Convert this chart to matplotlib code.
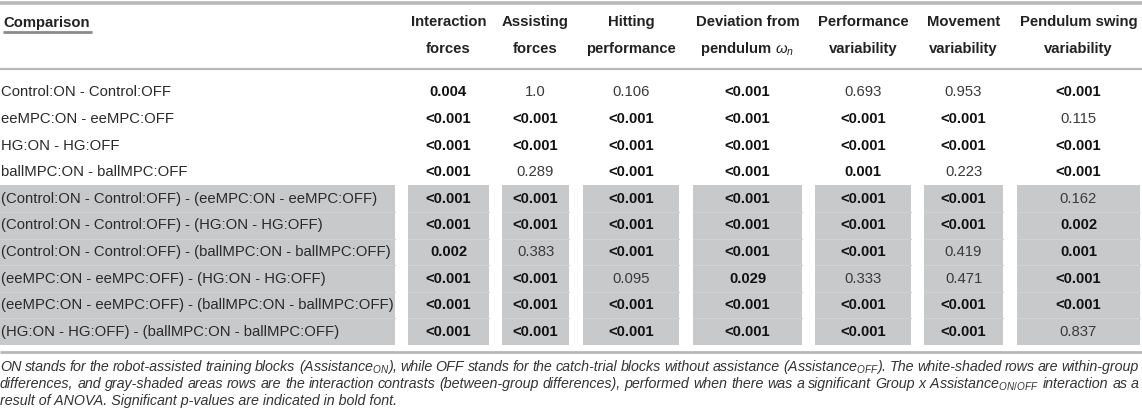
import matplotlib
matplotlib.use("Agg")
import matplotlib.pyplot as plt
from matplotlib.patches import Rectangle

plt.rcParams['font.family'] = ['Liberation Sans', 'DejaVu Sans']
plt.rcParams['mathtext.fontset'] = 'custom'
plt.rcParams['mathtext.rm'] = 'Liberation Sans'
plt.rcParams['mathtext.it'] = 'Liberation Sans:italic'
plt.rcParams['mathtext.bf'] = 'Liberation Sans:bold'

# ---------------- data ----------------
comparisons = [
    "Control:ON - Control:OFF",
    "eeMPC:ON - eeMPC:OFF",
    "HG:ON - HG:OFF",
    "ballMPC:ON - ballMPC:OFF",
    "(Control:ON - Control:OFF) - (eeMPC:ON - eeMPC:OFF)",
    "(Control:ON - Control:OFF) - (HG:ON - HG:OFF)",
    "(Control:ON - Control:OFF) - (ballMPC:ON - ballMPC:OFF)",
    "(eeMPC:ON - eeMPC:OFF) - (HG:ON - HG:OFF)",
    "(eeMPC:ON - eeMPC:OFF) - (ballMPC:ON - ballMPC:OFF)",
    "(HG:ON - HG:OFF) - (ballMPC:ON - ballMPC:OFF)",
]
row_shaded = [False, False, False, False, True, True, True, True, True, True]

header_line1 = ["Interaction", "Assisting", "Hitting", "Deviation from",
                "Performance", "Movement", "Pendulum swing"]
header_line2 = ["forces", "forces", "performance", r"pendulum $\omega_n$",
                "variability", "variability", "variability"]

interaction_forces = ["0.004", "<0.001", "<0.001", "<0.001", "<0.001", "<0.001",
                      "0.002", "<0.001", "<0.001", "<0.001"]
assisting_forces = ["1.0", "<0.001", "<0.001", "0.289", "<0.001", "<0.001",
                    "0.383", "<0.001", "<0.001", "<0.001"]
hitting_performance = ["0.106", "<0.001", "<0.001", "<0.001", "<0.001", "<0.001",
                       "<0.001", "0.095", "<0.001", "<0.001"]
deviation_pendulum = ["<0.001", "<0.001", "<0.001", "<0.001", "<0.001", "<0.001",
                      "<0.001", "0.029", "<0.001", "<0.001"]
performance_variability = ["0.693", "<0.001", "<0.001", "0.001", "<0.001", "<0.001",
                           "<0.001", "0.333", "<0.001", "<0.001"]
movement_variability = ["0.953", "<0.001", "<0.001", "0.223", "<0.001", "<0.001",
                        "0.419", "0.471", "<0.001", "<0.001"]
pendulum_swing_variability = ["<0.001", "0.115", "<0.001", "<0.001", "0.162", "0.002",
                              "0.001", "<0.001", "<0.001", "0.837"]

columns = [interaction_forces, assisting_forces, hitting_performance,
           deviation_pendulum, performance_variability, movement_variability,
           pendulum_swing_variability]

caption_lines = [
    r"ON stands for the robot-assisted training blocks (Assistance$_{ON}$), while OFF stands for the catch-trial blocks without assistance (Assistance$_{OFF}$). The white-shaded rows are within-group",
    r"differences, and gray-shaded areas rows are the interaction contrasts (between-group differences), performed when there was a significant Group x Assistance$_{ON/OFF}$ interaction as a",
    r"result of ANOVA. Significant p-values are indicated in bold font.",
]
caption_justify = [True, True, False]

# ---------------- layout (pixel units) ----------------
W, H = 1142, 419
col_bounds = [(408, 489), (502, 569), (583, 679), (693, 802),
              (815, 911), (924, 1003), (1017, 1140)]
label_bounds = (0, 395)
row_y0 = 79
row_h = 26.6
FS = 10.75
CAP_FS = 10.3
GRAY = "#c8c9cb"


def is_significant(v):
    if v.startswith("<"):
        return True
    return float(v) < 0.05


fig = plt.figure(figsize=(W / 100, H / 100), dpi=100)
ax = fig.add_axes([0, 0, 1, 1])
ax.set_xlim(0, W)
ax.set_ylim(H, 0)
ax.axis("off")

# shading
shaded_rows = [i for i, s in enumerate(row_shaded) if s]
if shaded_rows:
    top = row_y0 + shaded_rows[0] * row_h
    bot = row_y0 + (shaded_rows[-1] + 1) * row_h
    for (x0, x1) in [label_bounds] + col_bounds:
        ax.add_patch(Rectangle((x0, top), x1 - x0, bot - top,
                               facecolor=GRAY, edgecolor="none", zorder=0))
        for r in shaded_rows[1:]:
            yy = row_y0 + r * row_h
            ax.plot([x0, x1], [yy, yy], color="#d0d1d3", lw=0.8, zorder=1)

# rules
ax.plot([0, W], [3, 3], color="#b8b8b8", lw=2.6, solid_capstyle="butt")
ax.plot([0, W], [69, 69], color="#b8b8b8", lw=1.6, solid_capstyle="butt")
ax.plot([0, W], [352, 352], color="#b8b8b8", lw=2.0, solid_capstyle="butt")

# header
ax.text(3, 23, "Comparison", fontsize=FS, fontweight="bold", color="#222222",
        ha="left", va="center")
ax.plot([3, 92], [32.5, 32.5], color="#8a8a8a", lw=2.0, solid_capstyle="butt")
for (x0, x1), h1, h2 in zip(col_bounds, header_line1, header_line2):
    xc = (x0 + x1) / 2
    ax.text(xc, 22, h1, fontsize=FS, fontweight="bold", color="#222222",
            ha="center", va="center")
    ax.text(xc, 49, h2, fontsize=FS, fontweight="bold", color="#222222",
            ha="center", va="center")

# body
for i, label in enumerate(comparisons):
    yc = row_y0 + (i + 0.5) * row_h
    ax.text(1, yc, label, fontsize=FS, color="#2a2a2a", ha="left", va="center")
    for (x0, x1), col in zip(col_bounds, columns):
        v = col[i]
        bold = is_significant(v)
        ax.text((x0 + x1) / 2, yc, v, fontsize=FS,
                fontweight="bold" if bold else "normal",
                color="#111111" if bold else "#3a3a3a",
                ha="center", va="center")

# caption (justified)
fig.canvas.draw()
renderer = fig.canvas.get_renderer()
cap_y = [367, 384, 400.5]
for line, just, y in zip(caption_lines, caption_justify, cap_y):
    if not just:
        ax.text(0, y, line, fontsize=CAP_FS, style="italic", color="#333333",
                ha="left", va="center")
        continue
    words = line.split(" ")
    texts = [ax.text(0, y, w, fontsize=CAP_FS, style="italic", color="#333333",
                     ha="left", va="center") for w in words]
    widths = [t.get_window_extent(renderer).width for t in texts]
    gap = (1139 - sum(widths)) / (len(words) - 1)
    x = 0
    for t, w in zip(texts, widths):
        t.set_x(x)
        x += w + gap

fig.savefig("out.png", dpi=100)
